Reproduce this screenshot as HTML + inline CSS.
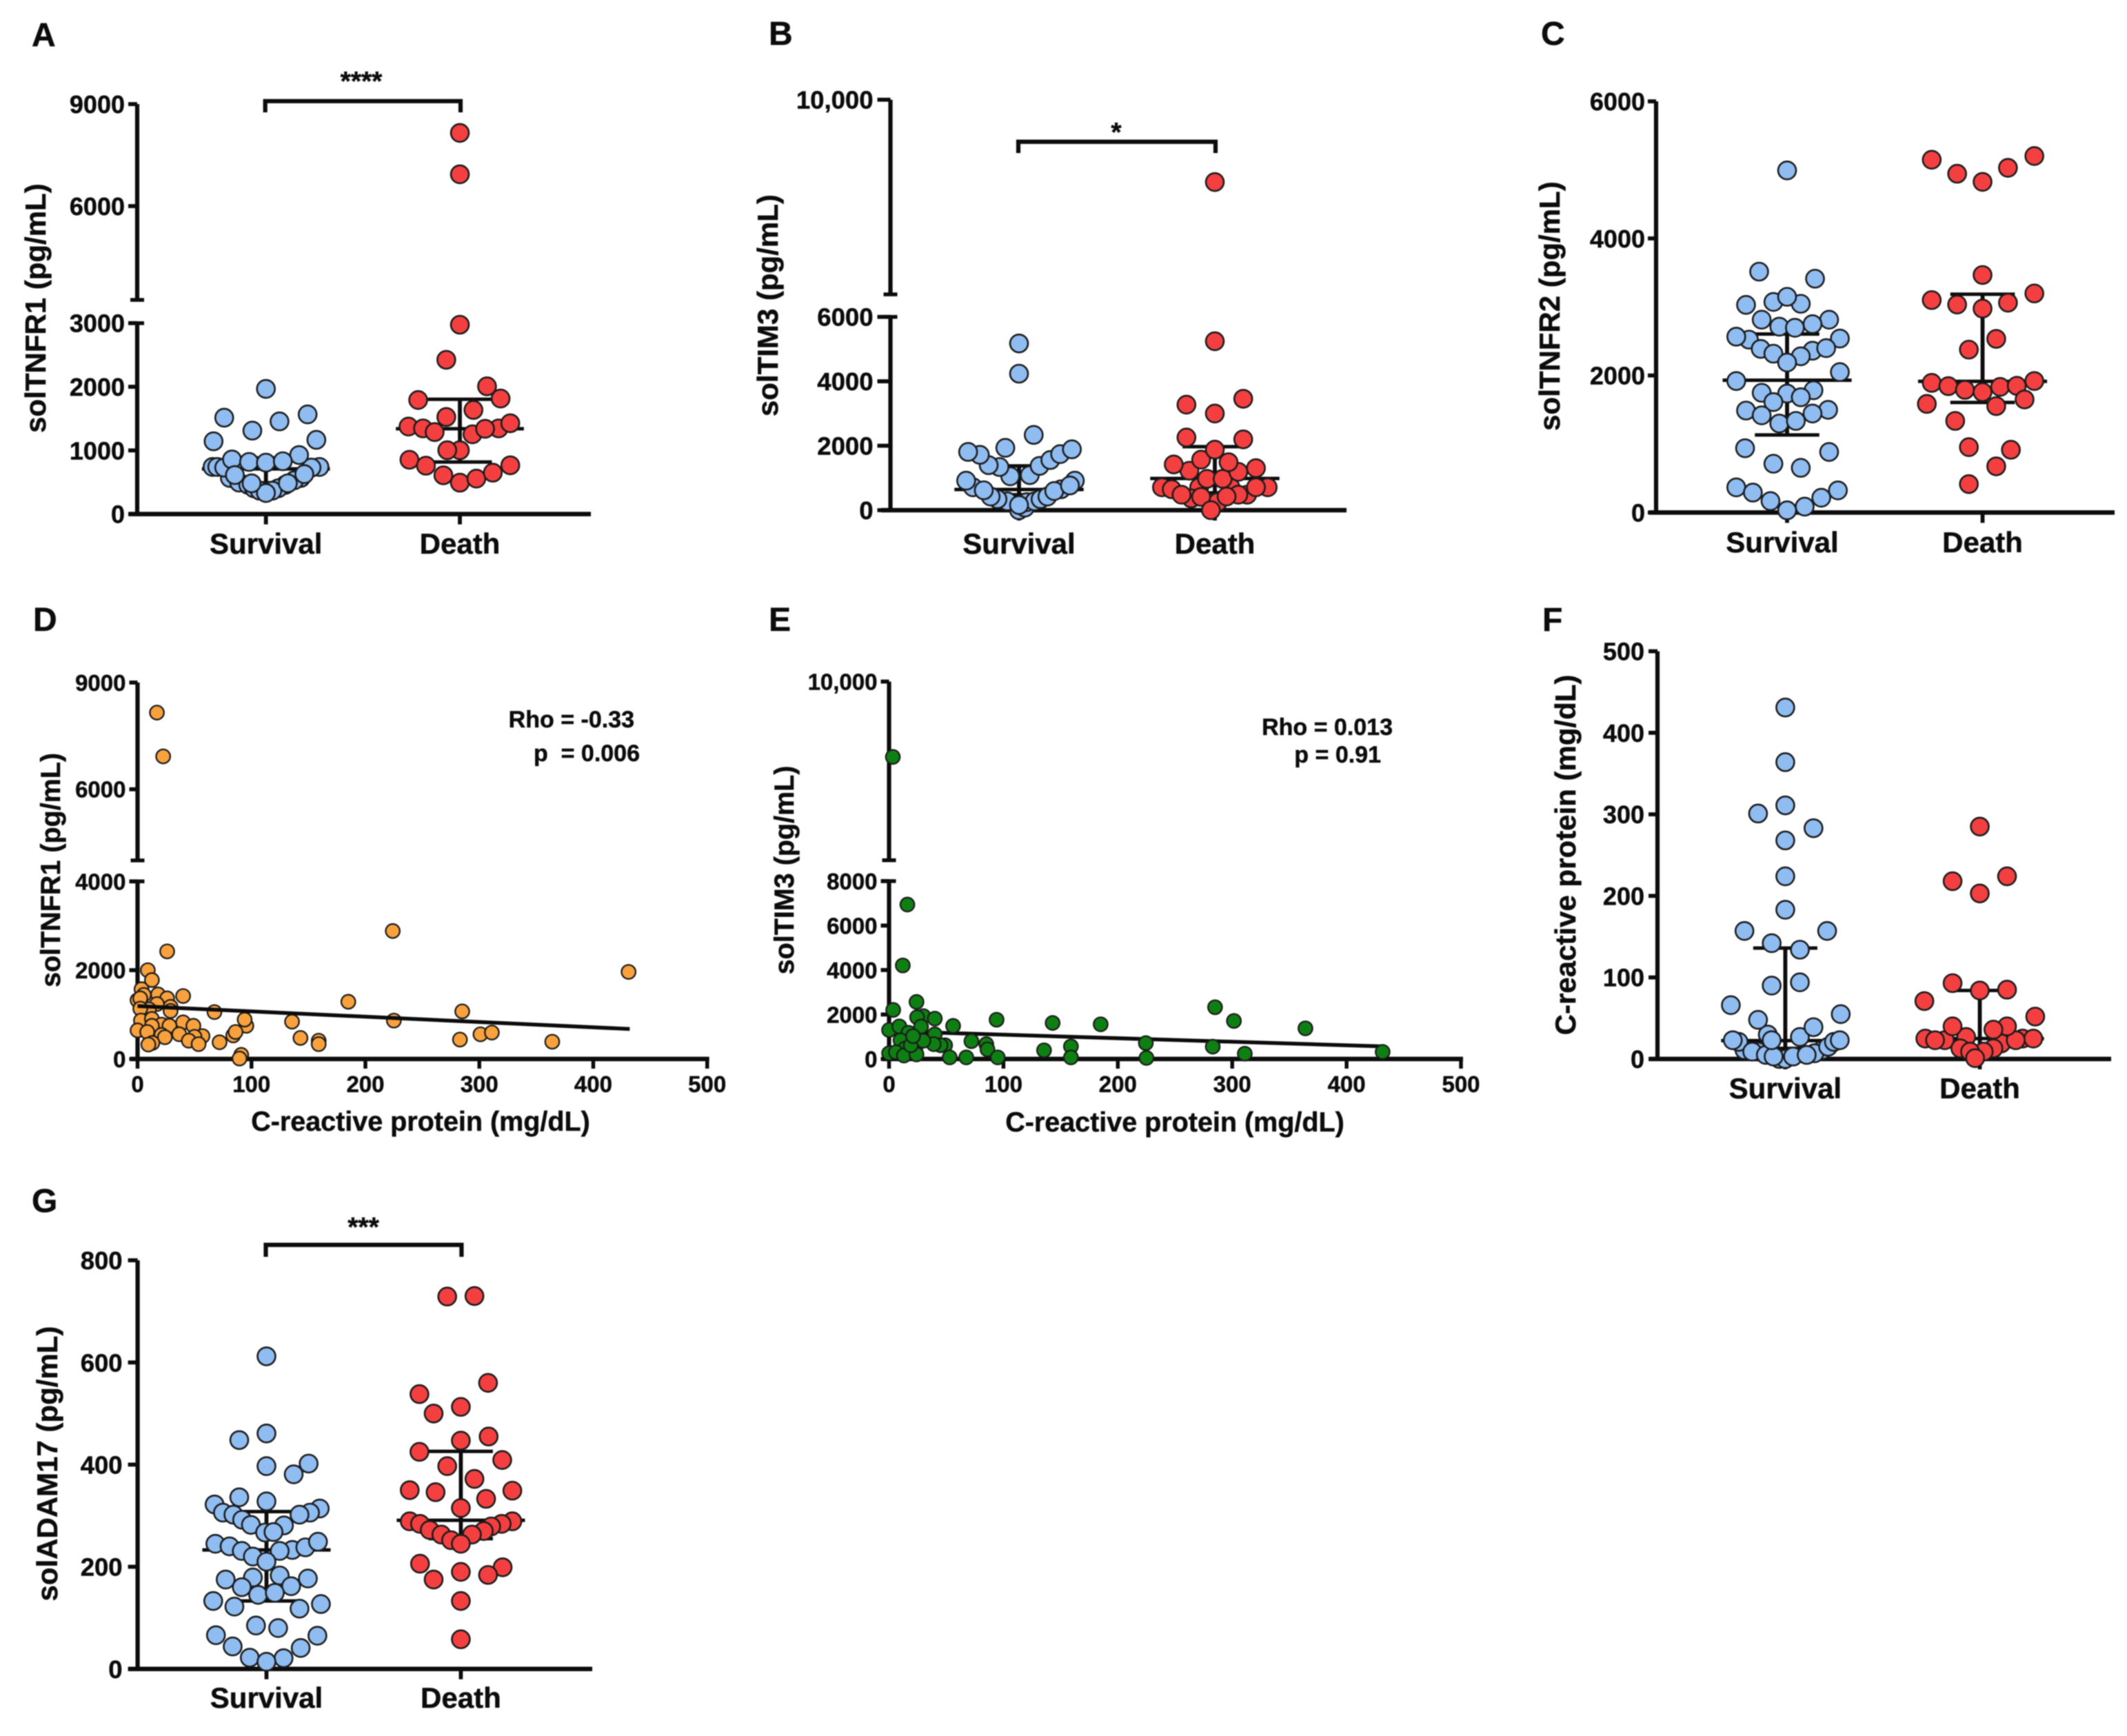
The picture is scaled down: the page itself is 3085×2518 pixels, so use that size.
<!DOCTYPE html>
<html lang="en">
<head>
<meta charset="utf-8">
<title>Soluble biomarkers in survival and death groups</title>
<style>
html,body{margin:0;padding:0;background:#fff;width:3085px;height:2518px;overflow:hidden}
svg{display:block;filter:blur(0.7px)}
text{font-family:"Liberation Sans",Arial,sans-serif;font-weight:700;fill:#0c0c0c;stroke:#0c0c0c;stroke-width:.5px}
.letter{font-size:48px}
.title{font-size:42px;text-anchor:middle}
.small-title{font-size:39.5px;text-anchor:middle}
.stat{font-size:34px;text-anchor:end}
.star{font-size:39px;text-anchor:middle}
</style>
</head>
<body>
<svg id="figure" xmlns="http://www.w3.org/2000/svg" width="3085" height="2518" viewBox="0 0 3085 2518">
  <rect width="3085" height="2518" fill="#ffffff"/>

  <g id="panelA">
    <text class="letter" x="46" y="67">A</text>
    <text class="title" transform="translate(66,447) rotate(-90)">solTNFR1 (pg/mL)</text>
    <text class="star" x="524" y="131">****</text>
  </g>
  <g id="panelB">
    <text class="letter" x="1115" y="65">B</text>
    <text class="title" transform="translate(1128,443) rotate(-90)">solTIM3 (pg/mL)</text>
    <text class="star" x="1619" y="205">*</text>
  </g>
  <g id="panelC">
    <text class="letter" x="2235" y="65">C</text>
    <text class="title" transform="translate(2262,444) rotate(-90)">solTNFR2 (pg/mL)</text>
  </g>
  <g id="panelD">
    <text class="letter" x="48" y="915">D</text>
    <text class="small-title" transform="translate(87,1262) rotate(-90)">solTNFR1 (pg/mL)</text>
    <text class="small-title" x="610" y="1640">C-reactive protein (mg/dL)</text>
    <text class="stat" x="920" y="1055">Rho = -0.33</text>
    <text class="stat" x="928" y="1104" xml:space="preserve">p  = 0.006</text>
  </g>
  <g id="panelE">
    <text class="letter" x="1115" y="915">E</text>
    <text class="small-title" transform="translate(1151,1262) rotate(-90)">solTIM3 (pg/mL)</text>
    <text class="small-title" x="1704" y="1641">C-reactive protein (mg/dL)</text>
    <text class="stat" x="2020" y="1066">Rho = 0.013</text>
    <text class="stat" x="2003" y="1106">p = 0.91</text>
  </g>
  <g id="panelF">
    <text class="letter" x="2237" y="915">F</text>
    <text class="title" transform="translate(2285,1240) rotate(-90)">C-reactive protein (mg/dL)</text>
  </g>
  <g id="panelG">
    <text class="letter" x="46" y="1758">G</text>
    <text class="title" transform="translate(83,2123) rotate(-90)">solADAM17 (pg/mL)</text>
    <text class="star" x="527" y="1793">***</text>
  </g>
</svg>

<script>
// ---------- shared category labels ----------
const categories = ["Survival", "Death"];

// ---------- Panel A: solTNFR1 ----------
const aTicks = [9000, 6000, 3000, 2000, 1000, 0];
const aSurvivalPos = [.814,.862,.909,.938,.968,1.18,1.146,1.099,1.063,1.033,1,.725,.749,.785,1.276,1.235,.825,1.171,.913,1,1.087,.84,1.198,.926,1.113,.73,1.26,.93,1.07,.785,1.215,1];
const aSurvivalVal = [567,494,458,404,367,567,530,458,404,367,331,740,740,730,740,730,858,927,819,808,830,613,627,483,483,1143,1166,1311,1456,1514,1566,1967];
const aSurvivalSpread = [492, 710, 882];
const aDeathPos = [2,2,2,1.93,2.14,1.785,2.21,2.07,1.93,1.735,1.81,1.87,2.065,2.2,2.13,2.26,2,1.935,1.74,1.825,1.915,2,2.085,2.17,2.26];
const aDeathVal = [8152,6935,2975,2424,2007,1792,1815,1636,1525,1375,1346,1288,1253,1346,1340,1427,1003,1003,853,760,609,493,557,650,766];
const aDeathSpread = [818, 1340, 1804];

// ---------- Panel B: solTIM3 ----------
const bTicks = [10000, 6000, 4000, 2000, 0];
const bSurvivalPos = [1,1.03,1.04,1.08,.94,.89,.855,1.11,1.145,1.215,1.18,.765,.82,1.285,1.26,.73,.955,1.055,.9,.845,1.105,1.16,1.21,1.27,.8,.74,.93,1.075,1,1,1];
const bSurvivalVal = [0,80,250,275,275,343,424,343,424,650,595,710,618,916,767,916,1053,1088,1340,1397,1374,1557,1740,1889,1718,1809,1935,2336,160,4237,5175];
const bSurvivalSpread = [480, 641, 1374];
const bDeathPos = [1.92,2.08,2.015,1.88,2.165,1.73,1.78,2.27,2.21,1.83,2.12,1.93,2.06,1.96,2.04,1.87,2.12,1.79,1.93,2.07,2.21,2,1.855,2.145,2,1.855,2.145,2,2,1.98];
const bDeathVal = [710,710,252,366,480,710,650,710,710,480,480,412,424,973,973,1225,1190,1420,1569,1489,1305,1878,2256,2198,3000,3275,3458,5244,9154,0];
const bDeathSpread = [538, 985, 1970];

// ---------- Panel C: solTNFR2 ----------
const cTicks = [6000, 4000, 2000, 0];
const cSurvivalPos = [1,.857,1.143,.79,.93,1.07,1,.87,1.215,1.13,.96,1.04,.805,.74,1.27,1.13,.865,.93,1.2,1.07,1,1.27,.74,1.135,.87,1,1.07,.93,.79,1.21,.87,1.13,.96,1.045,.785,1.215,.93,1.07,.74,.825,.915,1.09,1.175,1.26,1];
const cSurvivalVal = [4992,3515,3412,3030,3073,3046,3148,2814,2814,2749,2712,2696,2523,2566,2539,2361,2388,2318,2399,2280,2189,2049,1919,1784,1747,1736,1682,1612,1488,1499,1418,1445,1299,1337,938,884,712,652,367,291,167,86,216,323,32];
const cSurvivalSpread = [1132, 1930, 2604];
const cDeathPos = [1.74,1.87,2,2.13,2.265,2,2.265,1.74,1.87,2.13,2,2.07,1.93,1.74,1.825,1.91,2.09,2.175,2,2.265,1.715,2.215,2.07,1.86,1.93,2.145,2.07,1.93];
const cDeathVal = [5148,4944,4825,5030,5202,3466,3197,3100,3035,3062,2976,2534,2377,1892,1844,1790,1833,1849,1757,1919,1585,1650,1553,1337,954,916,674,415];
const cDeathSpread = [1606, 1914, 3186];

// ---------- Panel D: solTNFR1 vs CRP ----------
const dYTicks = [9000, 6000, 4000, 2000, 0];
const dXTicks = [0, 100, 200, 300, 400, 500];
const dCrp = [17,22.5,26,9,12.6,40,3.5,5.5,0,2.4,18,26,17,29,29,10,2.4,67.5,95.5,94,40,3,12.6,135.6,185,49,24,21,28,12.6,0,8.5,21,24,36.6,84,86,72,57,50,45,53.6,143,159,159,13,9.5,91,89.5,224,431,285,225,283,301,311,364];
const dValue = [8155,6924,2423,2000,1778,1418,1572,1443,1325,1366,1454,1366,1237,1175,1082,1119,1134,1057,747,887,825,866,902,840,1289,747,747,773,747,747,644,608,541,490,557,531,608,376,515,500,412,335,474,412,335,361,325,93,10,2882,1961,1072,865,437,556,595,389];
const dLineCrp = [0, 432];
const dLineVal = [1191, 675];

// ---------- Panel E: solTIM3 vs CRP ----------
const eYTicks = [10000, 8000, 6000, 4000, 2000, 0];
const eXTicks = [0, 100, 200, 300, 400, 500];
const eCrp = [3.3,16,12,24,3.6,30,24.5,40,56,94,143,185,0,9,28,17,40,10,26,72,85,86,159,49,45,39,135.5,23,14,0,6,13,24,19,30,21,53,67.5,95,159,285,301.5,364,224.5,225,283,311,431.5];
const eValue = [9157,6946,4207,2565,2206,1929,1878,1816,1488,1765,1621,1560,1303,1467,1457,1180,1108,841,770,800,667,431,564,616,616,667,390,390,462,256,308,154,205,616,820,1026,72,72,72,72,2328,1711,1378,713,48,554,238,317];
const eLineCrp = [0, 432];
const eLineVal = [1250, 565];

// ---------- Panel F: C-reactive protein ----------
const fTicks = [500, 400, 300, 200, 100, 0];
const fSurvivalPos = [.97,1,.79,.86,1.19,1.15,1.22,.76,1.25,.73,1.28,.83,.9,.94,1.04,1.11,.91,.93,1.075,.86,1.145,.72,1.285,.93,1.075,.93,1.075,.79,1.215,1,1,1,1,.86,1.145,1,1];
const fSurvivalVal = [0,0,11,9,11,7,15,21,21,23,23,9,5,3,3,5,30,23,27,48,39,66,55,90,94,142,134,157,157,183,224,268,311,301,283,364,431];
const fSurvivalSpread = [13, 22.5, 136];
const fDeathPos = [1.72,1.82,1.93,2.22,2.275,2.11,1.9,2.07,2.02,1.95,1.976,1.77,2.185,1.86,2.14,2.07,1.715,2.285,1.86,2,2.14,1.86,2.14,2,2];
const fDeathVal = [25,23,27,25,25,19,13,13,9,9,1,23,23,40,40,36,71,52,93,84,85,218,224,203,285];
const fDeathSpread = [15, 25, 84];

// ---------- Panel G: solADAM17 ----------
const gTicks = [800, 600, 400, 200, 0];
const gSurvivalPos = [1,1,.86,1,1.217,1.14,.86,.733,1.274,1.224,.776,1.17,.83,.875,.92,1.09,1,.993,1.036,.737,.81,.873,.93,1.133,1.2,1.265,1.068,1,.79,.93,1.068,1.213,.873,1.127,.957,1.043,.726,.835,1.28,1.17,.946,1.06,.74,1.262,.826,1.176,.914,1.088,1];
const gSurvivalVal = [612,461,448,397,402,381,336,322,314,306,306,302,302,292,282,281,328,267,268,245,240,231,220,233,238,249,231,210,175,179,183,177,160,162,145,149,133,122,127,118,85,80,66,65,44,41,22,21,14];
const gSurvivalSpread = [133, 233, 308];
const gDeathPos = [1.93,2.07,2.14,1.787,2,1.86,2,2.143,1.787,2.213,1.93,2.07,1.737,1.87,2.265,2.13,2,1.737,1.79,2.265,2.21,2.156,1.84,2.118,1.9,2.057,1.95,2,1.79,2.215,1.86,2,2.14,2,2];
const gDeathVal = [729,730,560,538,513,500,447,455,425,409,397,372,350,346,349,333,315,289,284,289,284,279,272,270,263,263,252,245,206,199,175,190,184,133,58];
const gDeathSpread = [255, 291, 426];

// ---------- drawing helpers ----------
const NS = "http://www.w3.org/2000/svg";
const BLUE = "#8fbcf1", RED = "#f43f41", ORANGE = "#f9a13c", GREEN = "#0e7f12", INK = "#0c0c0c";

function node(parent, tag) {
  const el = document.createElementNS(NS, tag);
  parent.appendChild(el);
  return el;
}

function rule(parent, x1, y1, x2, y2, w, name) {
  const el = node(parent, "line");
  el.setAttribute("x1", x1);
  el.setAttribute("y1", y1);
  el.setAttribute("x2", x2);
  el.setAttribute("y2", y2);
  el.setAttribute("stroke", INK);
  el.setAttribute("stroke-width", w);
  
  
  return el;
}

function label(parent, x, y, str, size, anchor, name) {
  const el = node(parent, "text");
  el.setAttribute("x", x);
  el.setAttribute("y", y);
  el.setAttribute("font-size", size);
  el.setAttribute("text-anchor", anchor);
  el.textContent = str;
  
  
  return el;
}

function dot(parent, x, y, r, sw, fill, name) {
  const el = node(parent, "circle");
  el.setAttribute("cx", x);
  el.setAttribute("cy", y);
  el.setAttribute("r", r);
  el.setAttribute("fill", fill);
  el.setAttribute("stroke", "#1b1b1b");
  el.setAttribute("stroke-width", sw);
  
  
  return el;
}

// piecewise (broken) y axis
function yScaleFrom(segments) {
  return function (v) {
    let s = segments[0];
    if (segments.length > 1 && v > segments[0].vMax) s = segments[1];
    return s.pMin + (v - s.vMin) * (s.pMax - s.pMin) / (s.vMax - s.vMin);
  };
}

function formatTick(v) {
  return v >= 10000 ? String(v).replace(/(\d)(\d{3})$/, "$1,$2") : String(v);
}

function drawYAxis(g, cfg, yOf) {
  cfg.segments.forEach(function (s) {
    rule(g, cfg.axisX, s.pMin, cfg.axisX, s.pMax, 6.2, "y-axis-line");
  });
  if (cfg.segments.length > 1) {
    const lo = cfg.segments[0], up = cfg.segments[1];
    rule(g, cfg.axisX - 10, lo.pMax, cfg.axisX + 10, lo.pMax, 5.5, "axis-break-lower-cap");
    rule(g, cfg.axisX - 10, up.pMin, cfg.axisX + 10, up.pMin, 5.5, "axis-break-upper-cap");
  }
  cfg.ticks.forEach(function (v) {
    const y = yOf(v);
    rule(g, cfg.axisX - cfg.tickLen, y, cfg.axisX, y, 5.8, "y-tick");
    label(g, cfg.axisX - cfg.labelGap, y + cfg.tickSize * 0.36, formatTick(v), cfg.tickSize, "end", "y-tick-label");
  });
}

function drawSpread(g, catX, yOf, pos, spread) {
  const med = yOf(spread[1]), lo = yOf(spread[0]), hi = yOf(spread[2]);
  rule(g, catX(pos), lo, catX(pos), hi, 5.8, "iqr-bar");
  rule(g, catX(pos - .165), lo, catX(pos + .165), lo, 5, "iqr-lower-cap");
  rule(g, catX(pos - .165), hi, catX(pos + .165), hi, 5, "iqr-upper-cap");
  rule(g, catX(pos - .33), med, catX(pos + .33), med, 5, "median-line");
}

function drawGroupPanel(cfg) {
  const g = document.getElementById(cfg.id);
  const yOf = yScaleFrom(cfg.segments);
  const catX = function (p) { return cfg.x1 + (p - 1) * (cfg.x2 - cfg.x1); };
  const y0 = yOf(0);

  drawSpread(g, catX, yOf, 1, cfg.survivalSpread);
  drawSpread(g, catX, yOf, 2, cfg.deathSpread);

  rule(g, cfg.xStart, y0, cfg.xEnd, y0, 6.5, "x-axis-line");
  categories.forEach(function (name, i) {
    const x = catX(i + 1);
    rule(g, x, y0, x, y0 + 15, 5.8, "x-tick");
    label(g, x + (cfg.labelShift ? cfg.labelShift[i] : 0), cfg.labelY, name, 42, "middle", "x-category-label");
  });
  drawYAxis(g, cfg, yOf);

  cfg.survivalVal.forEach(function (v, i) {
    dot(g, catX(cfg.survivalPos[i]), yOf(v), 13, 2.6, BLUE, "survival-point");
  });
  cfg.deathVal.forEach(function (v, i) {
    dot(g, catX(cfg.deathPos[i]), yOf(v), 13, 2.6, RED, "death-point");
  });

  if (cfg.bracketY) {
    const l = catX(1) - 1, r = catX(2) + 1;
    const b = node(g, "path");
    b.setAttribute("d", "M" + l + " " + cfg.bracketLeg + "V" + cfg.bracketY + "H" + r + "V" + cfg.bracketLeg);
    b.setAttribute("fill", "none");
    b.setAttribute("stroke", INK);
    b.setAttribute("stroke-width", 6.2);
    
    
  }
}

function drawScatterPanel(cfg) {
  const g = document.getElementById(cfg.id);
  const yOf = yScaleFrom(cfg.segments);
  const xOf = function (c) { return cfg.x0 + c * (cfg.x500 - cfg.x0) / 500; };
  const y0 = yOf(0);

  function trend() {
    rule(g, xOf(cfg.lineCrp[0]), yOf(cfg.lineVal[0]), xOf(cfg.lineCrp[1]), yOf(cfg.lineVal[1]), 5.5, "regression-line");
  }

  rule(g, cfg.xStart, y0, cfg.x500 + 3, y0, 6.5, "x-axis-line");
  cfg.xTicks.forEach(function (c) {
    rule(g, xOf(c), y0, xOf(c), y0 + 14, 5.5, "x-tick");
    label(g, xOf(c), cfg.xLabelY, String(c), cfg.tickSize, "middle", "x-tick-label");
  });
  drawYAxis(g, cfg, yOf);

  if (!cfg.lineOnTop) trend();
  cfg.value.forEach(function (v, i) {
    dot(g, xOf(cfg.crp[i]), yOf(v), 10.2, 2.3, cfg.fill, "scatter-point");
  });
  if (cfg.lineOnTop) trend();
}

// ---------- panels ----------
drawGroupPanel({
  id: "panelA", axisX: 199, xStart: 187, xEnd: 857, x1: 385.7, x2: 667, labelY: 803, tickSize: 36, tickLen: 13, labelGap: 18,
  segments: [{vMin: 0, vMax: 3000, pMin: 745.6, pMax: 468.7}, {vMin: 3240, vMax: 9000, pMin: 435, pMax: 151}],
  ticks: aTicks, bracketY: 146.7, bracketLeg: 163,
  survivalPos: aSurvivalPos, survivalVal: aSurvivalVal, survivalSpread: aSurvivalSpread,
  deathPos: aDeathPos, deathVal: aDeathVal, deathSpread: aDeathSpread
});

drawGroupPanel({
  id: "panelB", axisX: 1291.5, xStart: 1278, xEnd: 1953, x1: 1478, x2: 1762, labelY: 803, tickSize: 36.5, tickLen: 19, labelGap: 25,
  segments: [{vMin: 0, vMax: 6000, pMin: 740, pMax: 459.6}, {vMin: 8000, vMax: 10000, pMin: 427, pMax: 144.6}],
  ticks: bTicks, bracketY: 205.6, bracketLeg: 222,
  survivalPos: bSurvivalPos, survivalVal: bSurvivalVal, survivalSpread: bSurvivalSpread,
  deathPos: bDeathPos, deathVal: bDeathVal, deathSpread: bDeathSpread
});

drawGroupPanel({
  id: "panelC", axisX: 2402, xStart: 2392, xEnd: 3067, x1: 2592, x2: 2875.5, labelY: 801, tickSize: 36, tickLen: 12, labelGap: 16,
  labelShift: [-7, 0],
  segments: [{vMin: 0, vMax: 6000, pMin: 743.4, pMax: 147}],
  ticks: cTicks,
  survivalPos: cSurvivalPos, survivalVal: cSurvivalVal, survivalSpread: cSurvivalSpread,
  deathPos: cDeathPos, deathVal: cDeathVal, deathSpread: cDeathSpread
});

drawScatterPanel({
  id: "panelD", axisX: 199.5, xStart: 189, x0: 199.5, x500: 1025.7, xLabelY: 1584, tickSize: 33, tickLen: 12, labelGap: 17, fill: ORANGE,
  segments: [{vMin: 0, vMax: 4000, pMin: 1536, pMax: 1278.4}, {vMin: 4000, vMax: 9000, pMin: 1248, pMax: 990}],
  ticks: dYTicks, xTicks: dXTicks, crp: dCrp, value: dValue, lineCrp: dLineCrp, lineVal: dLineVal, lineOnTop: true
});

drawScatterPanel({
  id: "panelE", axisX: 1289.5, xStart: 1280, x0: 1289.5, x500: 2119, xLabelY: 1584, tickSize: 33, tickLen: 12, labelGap: 17, fill: GREEN,
  segments: [{vMin: 0, vMax: 8000, pMin: 1536, pMax: 1278}, {vMin: 8000, vMax: 10000, pMin: 1247.8, pMax: 988.6}],
  ticks: eYTicks, xTicks: eXTicks, crp: eCrp, value: eValue, lineCrp: eLineCrp, lineVal: eLineVal, lineOnTop: false
});

drawGroupPanel({
  id: "panelF", axisX: 2404, xStart: 2392, xEnd: 3062, x1: 2589.4, x2: 2871.5, labelY: 1593, tickSize: 36, tickLen: 13, labelGap: 19,
  segments: [{vMin: 0, vMax: 500, pMin: 1536, pMax: 944.6}],
  ticks: fTicks,
  survivalPos: fSurvivalPos, survivalVal: fSurvivalVal, survivalSpread: fSurvivalSpread,
  deathPos: fDeathPos, deathVal: fDeathVal, deathSpread: fDeathSpread
});

drawGroupPanel({
  id: "panelG", axisX: 199.6, xStart: 186, xEnd: 859, x1: 386.5, x2: 668.4, labelY: 2477, tickSize: 36.5, tickLen: 14, labelGap: 22,
  segments: [{vMin: 0, vMax: 800, pMin: 2420.7, pMax: 1828}],
  ticks: gTicks, bracketY: 1805.6, bracketLeg: 1823,
  survivalPos: gSurvivalPos, survivalVal: gSurvivalVal, survivalSpread: gSurvivalSpread,
  deathPos: gDeathPos, deathVal: gDeathVal, deathSpread: gDeathSpread
});
</script>
</body>
</html>
